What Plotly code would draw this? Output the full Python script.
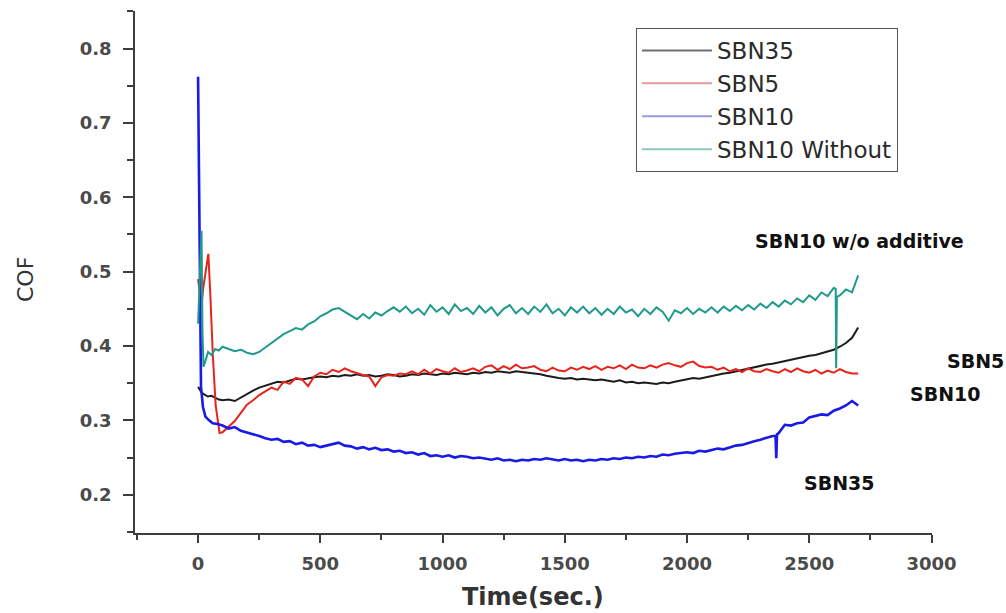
import plotly.graph_objects as go

# ---------------- data ----------------
series_names = ["SBN35", "SBN5", "SBN10", "SBN10 Without"]
annotation_labels = ["SBN10 w/o additive", "SBN5", "SBN10", "SBN35"]

base_time = list(range(100, 2701, 25))  # sampling positions, seconds

# SBN35 (black)
sbn35_early_t = [0, 8, 15, 25, 40, 55, 70, 85]
sbn35_early_v = [0.345, 0.340, 0.337, 0.335, 0.332, 0.333, 0.330, 0.328]
sbn35_v = [
    0.327, 0.328, 0.326, 0.331, 0.336, 0.340, 0.344, 0.347, 0.350, 0.352,
    0.351, 0.354, 0.356, 0.355, 0.357, 0.358, 0.359, 0.358, 0.360, 0.359,
    0.361, 0.360, 0.362, 0.360, 0.361, 0.359, 0.360, 0.362, 0.361, 0.359,
    0.360, 0.362, 0.361, 0.363, 0.362, 0.361, 0.363, 0.362, 0.364, 0.363,
    0.362, 0.364, 0.363, 0.365, 0.364, 0.366, 0.365, 0.364, 0.366, 0.365,
    0.364, 0.363, 0.362, 0.360, 0.358, 0.357, 0.356, 0.357, 0.355, 0.356,
    0.355, 0.354, 0.355, 0.353, 0.352, 0.354, 0.351, 0.352, 0.350, 0.351,
    0.350, 0.349, 0.351, 0.350, 0.352, 0.354, 0.355, 0.357, 0.356, 0.358,
    0.360, 0.361, 0.363, 0.364, 0.366, 0.368, 0.370, 0.372, 0.373, 0.375,
    0.376, 0.378, 0.380, 0.381, 0.383, 0.385, 0.387, 0.388, 0.390, 0.392,
    0.395, 0.399, 0.404, 0.411, 0.425,
]

# SBN5 (red)
sbn5_early_t = [0, 8, 14, 22, 34, 42, 50, 60, 72, 88]
sbn5_early_v = [0.490, 0.470, 0.455, 0.480, 0.505, 0.524, 0.470, 0.390, 0.320, 0.283]
sbn5_v = [
    0.284, 0.291, 0.299, 0.310, 0.321, 0.327, 0.334, 0.339, 0.344, 0.341,
    0.352, 0.349, 0.357, 0.355, 0.346, 0.359, 0.364, 0.362, 0.368, 0.365,
    0.370, 0.366, 0.363, 0.361, 0.359, 0.346, 0.358, 0.361, 0.360, 0.363,
    0.362, 0.366, 0.362, 0.368, 0.363, 0.369, 0.366, 0.364, 0.370, 0.365,
    0.367, 0.370, 0.366, 0.372, 0.374, 0.368, 0.373, 0.369, 0.375, 0.370,
    0.371, 0.373, 0.368, 0.366, 0.371, 0.367, 0.366, 0.371, 0.368, 0.372,
    0.369, 0.373, 0.368, 0.372, 0.370, 0.374, 0.369, 0.375, 0.371, 0.370,
    0.374, 0.371, 0.375, 0.377, 0.374, 0.372, 0.377, 0.379, 0.373, 0.371,
    0.372, 0.368, 0.371, 0.366, 0.369, 0.365, 0.370, 0.366, 0.365, 0.369,
    0.366, 0.364, 0.369, 0.365, 0.370, 0.366, 0.364, 0.368, 0.363, 0.367,
    0.364, 0.369, 0.365, 0.363, 0.363,
]

# SBN10 (blue)
sbn10_early_t = [0, 6, 12, 20, 30, 45, 60, 80]
sbn10_early_v = [0.762, 0.500, 0.345, 0.318, 0.305, 0.300, 0.296, 0.295]
sbn10_extra_t = [2362, 2365, 2368]
sbn10_extra_v = [0.279, 0.249, 0.281]
sbn10_v = [
    0.293, 0.289, 0.291, 0.286, 0.284, 0.281, 0.279, 0.276, 0.274, 0.275,
    0.271, 0.272, 0.268, 0.270, 0.266, 0.267, 0.264, 0.266, 0.268, 0.270,
    0.266, 0.265, 0.262, 0.264, 0.261, 0.263, 0.260, 0.261, 0.258, 0.259,
    0.256, 0.257, 0.254, 0.256, 0.252, 0.253, 0.251, 0.253, 0.250, 0.252,
    0.251, 0.249, 0.250, 0.248, 0.247, 0.249, 0.246, 0.247, 0.245, 0.247,
    0.246, 0.248, 0.247, 0.249, 0.247, 0.246, 0.248, 0.246, 0.247, 0.245,
    0.247, 0.246, 0.248, 0.247, 0.249, 0.248, 0.250, 0.249, 0.251, 0.250,
    0.252, 0.251, 0.254, 0.253, 0.255, 0.256, 0.257, 0.256, 0.259, 0.258,
    0.260, 0.262, 0.261, 0.264, 0.266, 0.267, 0.270, 0.272, 0.274, 0.277,
    0.279, 0.283, 0.294, 0.293, 0.296, 0.297, 0.304, 0.306, 0.308, 0.307,
    0.313, 0.316, 0.320, 0.326, 0.320,
]

# SBN10 Without (teal)
sbn10w_early_t = [0, 8, 14, 18, 22, 30, 41, 55, 70, 85]
sbn10w_early_v = [0.430, 0.500, 0.555, 0.420, 0.372, 0.380, 0.392, 0.388, 0.396, 0.394]
sbn10w_extra_t = [2608, 2610, 2613]
sbn10w_extra_v = [0.477, 0.370, 0.466]
sbn10w_v = [
    0.399, 0.396, 0.393, 0.395, 0.391, 0.389, 0.392, 0.398, 0.404, 0.409,
    0.416, 0.420, 0.424, 0.422, 0.429, 0.433, 0.440, 0.444, 0.449, 0.451,
    0.446, 0.440, 0.436, 0.443, 0.437, 0.445, 0.441, 0.447, 0.452, 0.446,
    0.453, 0.444, 0.450, 0.442, 0.455, 0.446, 0.452, 0.443, 0.456, 0.447,
    0.451, 0.443, 0.454, 0.445, 0.452, 0.441, 0.450, 0.455, 0.444, 0.451,
    0.443, 0.453, 0.446, 0.456, 0.444, 0.450, 0.441, 0.452, 0.445, 0.453,
    0.444, 0.451, 0.442, 0.450, 0.443, 0.453, 0.445, 0.449, 0.440, 0.450,
    0.443, 0.452, 0.446, 0.434, 0.448, 0.444, 0.451, 0.443, 0.450, 0.445,
    0.452, 0.445, 0.453, 0.447, 0.454, 0.448, 0.455, 0.449, 0.457, 0.451,
    0.459, 0.453, 0.461, 0.456, 0.464, 0.459, 0.468, 0.462, 0.472, 0.467,
    0.478, 0.468, 0.476, 0.472, 0.495,
]


def build(early_t, early_v, vals, extra_t=(), extra_v=()):
    pts = list(zip(early_t, early_v)) + list(zip(base_time, vals)) + list(zip(extra_t, extra_v))
    pts.sort(key=lambda p: p[0])
    return [p[0] for p in pts], [p[1] for p in pts]


series = [
    build(sbn35_early_t, sbn35_early_v, sbn35_v),
    build(sbn5_early_t, sbn5_early_v, sbn5_v),
    build(sbn10_early_t, sbn10_early_v, sbn10_v, sbn10_extra_t, sbn10_extra_v),
    build(sbn10w_early_t, sbn10w_early_v, sbn10w_v, sbn10w_extra_t, sbn10w_extra_v),
]

line_colors = ["#1c1c1c", "#e8231c", "#1a1ae6", "#1f9a8c"]
line_widths = [2.0, 2.0, 2.6, 2.0]
legend_colors = ["#6e6e6e", "#e49a9a", "#9a9ae0", "#8cc7bf"]

fig = go.Figure()
for (tx, ty), name, col, lw in zip(series, series_names, line_colors, line_widths):
    fig.add_trace(go.Scatter(x=tx, y=ty, mode="lines", name=name,
                             line=dict(color=col, width=lw), showlegend=False,
                             hoverinfo="skip"))
for name, col in zip(series_names, legend_colors):
    fig.add_trace(go.Scatter(x=[None], y=[None], mode="lines", name=name,
                             line=dict(color=col, width=2), showlegend=True))

# plot area geometry (px) for paper-coordinate placement
L, R, T, B = 135, 932, 11, 533
W, H = 1006, 613


def px(x):
    return (x - L) / (R - L)


def py(y):
    return (B - y) / (B - T)


axis_col = "#3d3d3d"
tick_font = dict(family="DejaVu Sans", size=18, color="#4a4a4a", weight="bold")

fig.update_layout(
    width=W, height=H,
    margin=dict(l=L, r=W - R, t=T, b=H - B),
    paper_bgcolor="white", plot_bgcolor="white",
    showlegend=True,
    legend=dict(
        x=px(636), y=py(28), xanchor="left", yanchor="top",
        bordercolor="#555555", borderwidth=1, bgcolor="rgba(255,255,255,0.85)",
        font=dict(family="DejaVu Sans", size=23, color="#2a2a2a"),
        itemwidth=70, tracegroupgap=0,
    ),
    xaxis=dict(
        range=[-258, 3002], showgrid=False, zeroline=False,
        showline=True, linecolor=axis_col, linewidth=1.5,
        tick0=0, dtick=500, ticks="outside", ticklen=8, tickwidth=1.5,
        tickcolor=axis_col, tickfont=tick_font, ticklabelstandoff=6,
        minor=dict(dtick=250, tick0=0, ticks="outside", ticklen=5,
                   tickwidth=1.5, tickcolor=axis_col),
    ),
    yaxis=dict(
        range=[0.1485, 0.8505], showgrid=False, zeroline=False,
        showline=True, linecolor=axis_col, linewidth=1.5,
        tick0=0, dtick=0.1, tickformat=".1f", ticks="outside", ticklen=10,
        tickwidth=1.5, tickcolor=axis_col, tickfont=tick_font,
        ticklabelstandoff=8,
        minor=dict(dtick=0.05, tick0=0, ticks="outside", ticklen=6,
                   tickwidth=1.5, tickcolor=axis_col),
    ),
)

# axis titles
fig.add_annotation(text="Time(sec.)", x=px(533), y=py(597), xref="paper", yref="paper",
                   showarrow=False, xanchor="center", yanchor="middle",
                   font=dict(family="DejaVu Sans", size=24, color="#333333", weight="bold"))
fig.add_annotation(text="COF", x=px(25), y=py(280), xref="paper", yref="paper",
                   showarrow=False, textangle=-90, xanchor="center", yanchor="middle",
                   font=dict(family="DejaVu Sans", size=22, color="#333333"))

# curve labels
label_pos = [(859, 241), (975, 361), (945, 394), (839, 483)]
for txt, (lx, ly) in zip(annotation_labels, label_pos):
    fig.add_annotation(text=txt, x=px(lx), y=py(ly), xref="paper", yref="paper",
                       showarrow=False, xanchor="center", yanchor="middle",
                       font=dict(family="DejaVu Sans", size=19, color="#111111",
                                 weight="bold"))

fig.write_html("out.html", config={"displayModeBar": False},
               post_script="document.body.style.margin='0px';document.body.style.padding='0px';")
